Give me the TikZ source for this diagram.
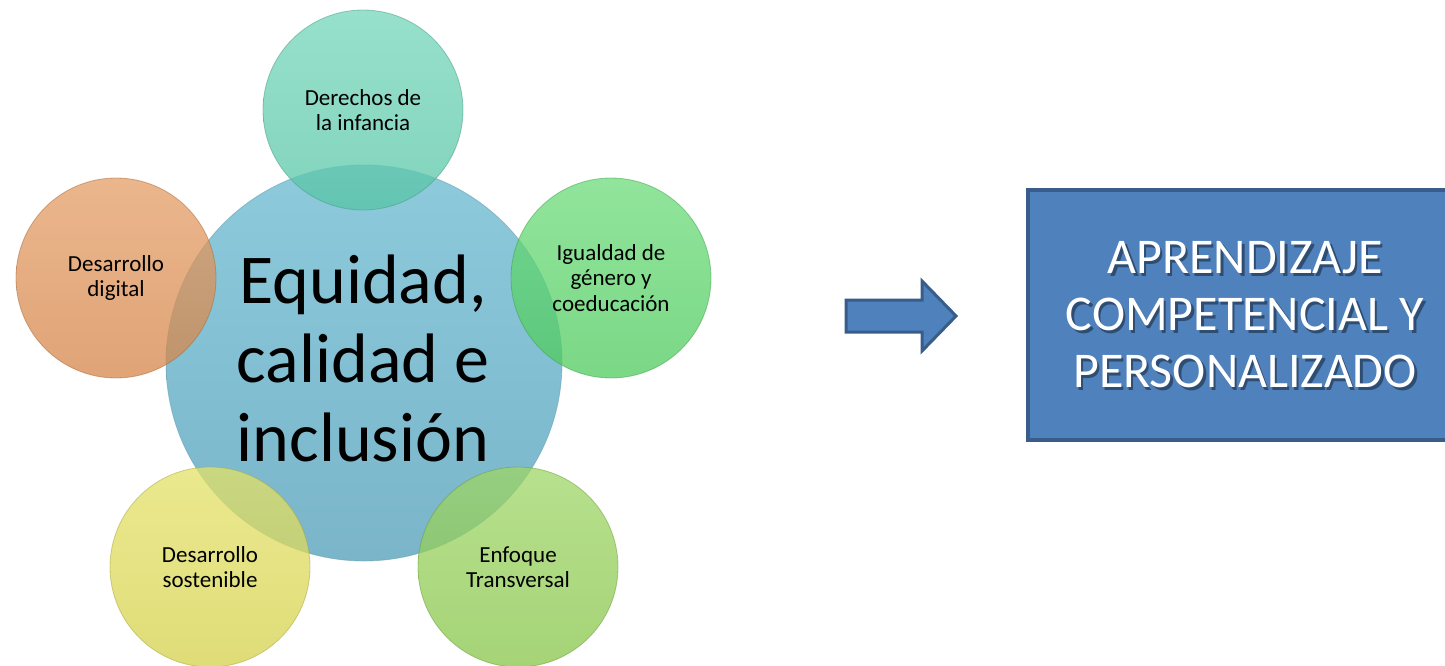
\documentclass[tikz,border=0pt]{standalone}
\usepackage{fontspec}
\setmainfont{Carlito}
\definecolor{cen}{HTML}{8CCADC}
\definecolor{cenb}{HTML}{7AB5C9}
\definecolor{teal}{HTML}{5CCFAE}
\definecolor{grn}{HTML}{52D562}
\definecolor{org}{HTML}{E08C4C}
\definecolor{yel}{HTML}{DFDC4E}
\definecolor{lgr}{HTML}{8ECF4C}
\definecolor{boxfill}{HTML}{4F81BD}
\definecolor{boxline}{HTML}{385D8A}
\begin{document}
\begin{tikzpicture}[x=1pt,y=-1pt,
  sat/.style={circle, minimum size=200pt, inner sep=0pt, draw=#1!75!black, line width=0.8pt,
    top color=#1!85!white, bottom color=#1!95!black, fill opacity=0.75, draw opacity=0.5,
    text opacity=1, align=center, font=\fontsize{23}{25.5}\selectfont},
  bigtext/.style={align=center, font=\fontsize{50}{57}\selectfont}
]
\useasboundingbox (0,0) rectangle (1445,665);
\clip (0,0) rectangle (1445,665);
% central circle
\node[circle, minimum size=396pt, inner sep=0pt, top color=cen, bottom color=cenb,
  draw=cenb!85!black, draw opacity=0.5, line width=0.8pt] (c) at (364,363) {};
% satellites
\node[sat=teal] (top) at (363,110) {Derechos de\\la infancia};
\node[sat=grn] (right) at (611,278) {Igualdad de\\género y\\coeducación};
\node[sat=org] (left) at (116,278) {Desarrollo\\digital};
\node[sat=yel] (bl) at (210,567) {Desarrollo\\sostenible};
\node[sat=lgr] (br) at (518,567) {Enfoque\\Transversal};
% central text
\node[align=center, font=\fontsize{70}{79}\selectfont] (ct) at (363,358) {Equidad,\\calidad e\\inclusión};
% arrow
\draw[fill=boxfill, draw=boxline, line width=3pt, line join=miter]
  (846,300) -- (922,300) -- (922,281) -- (956,316) -- (922,351) -- (922,332) -- (846,332) -- cycle;
% box
\node[rectangle, minimum width=434pt, minimum height=250pt, fill=boxfill, draw=boxline, line width=4pt] (box) at (1245,315) {};
\node[bigtext, text=black, opacity=0.4] (boxshadow) at (1247.5,317.5) {APRENDIZAJE\\COMPETENCIAL Y\\PERSONALIZADO};
\node[bigtext, text=white] (boxtext) at (box.center) {APRENDIZAJE\\COMPETENCIAL Y\\PERSONALIZADO};
\end{tikzpicture}
\end{document}
